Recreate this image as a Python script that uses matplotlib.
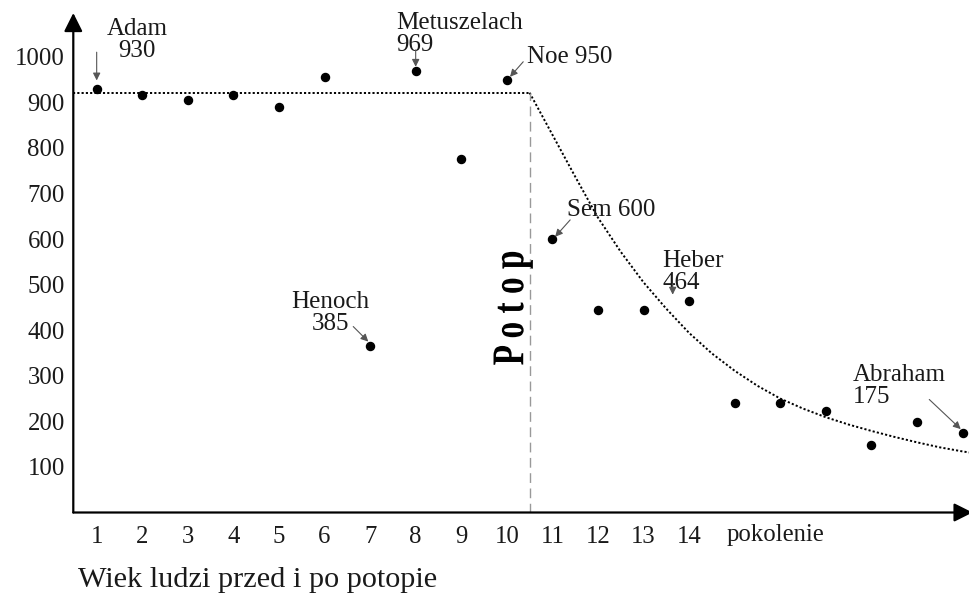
import matplotlib
matplotlib.use("Agg")
import matplotlib.pyplot as plt
import matplotlib.transforms as mtransforms
from matplotlib.textpath import TextPath
from matplotlib.patches import PathPatch
from matplotlib.font_manager import FontProperties

plt.rcParams['font.family'] = ['Liberation Serif', 'DejaVu Serif']

# pokolenia 1..20 i wiek
pokolenie = list(range(1, 21))
wiek = [930, 915, 905, 915, 890, 955, 365, 969, 775, 950,
        600, 445, 445, 464, 240, 240, 222, 148, 198, 175]

# linia trendu: przed potopem (poziom) i po potopie (krzywa)
przed_x = [0.487, 10.5]
przed_y = [921, 921]
po_x = [10.5, 11.0, 11.5, 12.0, 12.5, 13.0, 13.5, 14.0, 14.5, 15.0, 15.5,
        16.0, 16.5, 17.0, 17.5, 18.0, 18.5, 19.0, 19.5, 20.0, 20.2]
po_y = [921, 829, 737, 647, 572, 505, 447, 394, 349, 311, 278,
        250, 228, 209, 193, 179, 166, 154, 143, 134, 131]
potop_x = 10.51

yticks = list(range(100, 1001, 100))
xticks = list(range(1, 15))

# podpisy: tekst, pozycja tekstu, ogon strzalki, grot, wyrownanie
podpisy = [
    ("Adam\n930", (1.887, 1037), (1.0, 1010), (1.0, 948), 'center'),
    ("Metuszelach\n969", (7.58, 1050), (8.0, 1015), (8.0, 978), 'left'),
    ("Noe 950", (10.44, 1000), (10.36, 989), (10.07, 956), 'left'),
    ("Sem 600", (11.31, 664), (11.39, 642), (11.06, 605), 'left'),
    ("Heber\n464", (13.42, 527), (13.64, 502), (13.64, 478), 'left'),
    ("Henoch\n385", (6.12, 438), (6.63, 408), (6.96, 375), 'center'),
    ("Abraham\n175", (17.6, 277), (19.27, 248), (19.96, 183), 'left'),
]

fig = plt.figure(figsize=(9.69, 5.94), dpi=100)
ax = fig.add_axes([73.3 / 969, (594 - 512.5) / 594, (969 - 73.3) / 969, (512.5 - 13) / 594])
ax.set_xlim(0.487, 20.142)
ax.set_ylim(0, 1096)

for s in ax.spines.values():
    s.set_visible(False)

# osie ze strzalkami
ax.annotate('', xy=(0, 1.0), xytext=(0, 0), xycoords='axes fraction',
            arrowprops=dict(arrowstyle='-|>', lw=1.6, color='black',
                            mutation_scale=28, shrinkA=0, shrinkB=0))
ax.annotate('', xy=(1.004, 0), xytext=(0, 0), xycoords='axes fraction',
            arrowprops=dict(arrowstyle='-|>', lw=1.6, color='black',
                            mutation_scale=28, shrinkA=0, shrinkB=0),
            annotation_clip=False)

ax.set_yticks(yticks)
ax.set_xticks(xticks)
ax.tick_params(axis='both', length=0, labelsize=17.8, colors='#1a1a1a')
ax.tick_params(axis='y', pad=6)
ax.tick_params(axis='x', pad=10)
ax.text(14.82, -50, 'pokolenie', fontsize=17.8, color='#1a1a1a',
        ha='left', va='center', clip_on=False)

# linie trendu
ax.plot(przed_x, przed_y, color='black', lw=1.4, ls=(0, (1.1, 1.1)), clip_on=False)
ax.plot(po_x, po_y, color='black', lw=1.4, ls=(0, (1.1, 1.1)), clip_on=False)
ax.plot([potop_x, potop_x], [0, przed_y[-1]], color='#999999', lw=1.0,
        ls=(0, (7, 4)))

ax.plot(pokolenie, wiek, 'o', color='black', markersize=5.8, clip_on=False)

for txt, pos, tail, head, ha in podpisy:
    ax.text(pos[0], pos[1], txt, fontsize=18, color='#1a1a1a', ha=ha,
            va='center', linespacing=1.0)
    ax.annotate('', xy=head, xytext=tail,
                arrowprops=dict(arrowstyle='-|>', lw=0.8, color='#555555',
                                mutation_scale=11, shrinkA=0, shrinkB=0))

# napis "Potop" - pogrubiony, obrocony i wyciagniety w poprzek
tp = TextPath((0, 0), 'P o t o p', size=24,
              prop=FontProperties(family='Liberation Serif', weight='bold'))
bb = tp.get_extents()
cx, cy = ax.transData.transform((10.14, 448))
px = fig.dpi / 72.0
tr = (mtransforms.Affine2D()
      .translate(-(bb.x0 + bb.x1) / 2, -(bb.y0 + bb.y1) / 2)
      .scale(px, px * 1.36)
      .rotate_deg(90)
      .translate(cx, cy))
fig.patches.append(PathPatch(tp, transform=tr, facecolor='black',
                             edgecolor='none', figure=fig))

fig.text(78 / 969, 1 - 580 / 594, 'Wiek ludzi przed i po potopie',
         fontsize=21.8, color='#1a1a1a', ha='left', va='center')

fig.savefig('out.png', dpi=100, facecolor='white')
